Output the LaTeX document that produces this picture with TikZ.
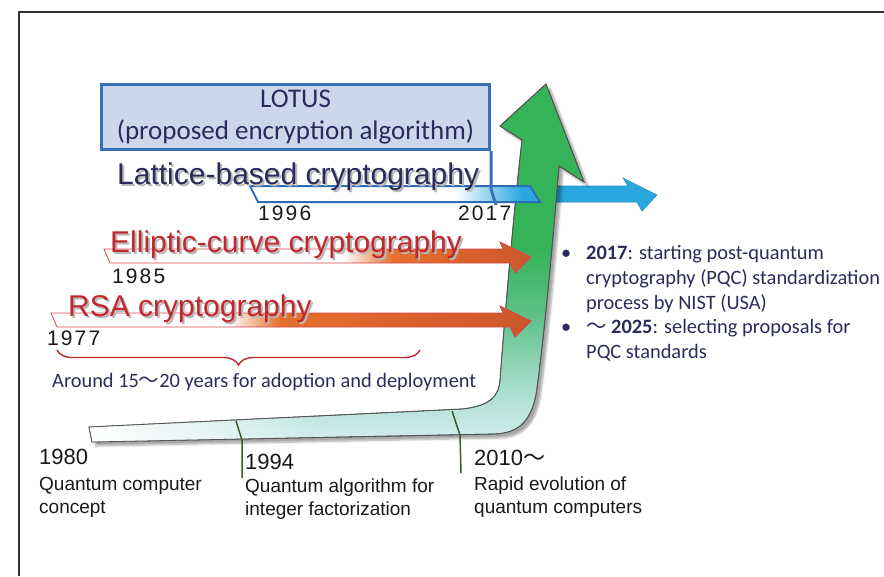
\documentclass[tikz,border=0pt]{standalone}
\usepackage{fontspec}
\setmainfont{Carlito}
\newfontfamily\titlefont{Liberation Sans}
\newfontfamily\yearfont[LetterSpace=10]{Liberation Sans}
\newfontfamily\capfont{Liberation Sans}
\newfontfamily\cjk{Noto Sans CJK JP}
\usetikzlibrary{shadows.blur,fadings,decorations.pathreplacing}
\definecolor{navytxt}{HTML}{2B2B5B}
\definecolor{redtxt}{HTML}{C1272D}
\definecolor{boxfill}{HTML}{CBD8EB}
\definecolor{boxline}{HTML}{3A70B8}
\definecolor{latline}{HTML}{2E6DB4}
\definecolor{latblue}{HTML}{29A8E0}
\definecolor{eorange}{HTML}{E5712E}
\definecolor{eorangedk}{HTML}{CB5629}
\definecolor{ecline}{HTML}{D9474B}
\definecolor{qgreen}{HTML}{35B359}
\definecolor{qmid}{HTML}{62C28C}
\definecolor{qmint}{HTML}{A6DCCB}
\definecolor{qpale}{HTML}{D3EEEF}
\definecolor{tickgreen}{HTML}{3E5B2C}
\pgfdeclareverticalshading{qshade}{100bp}{color(0bp)=(qpale); color(25bp)=(qpale);
  color(33bp)=(qmint); color(42bp)=(qmid); color(52bp)=(qgreen); color(100bp)=(qgreen)}
\tikzfading[name=faderight, left color=transparent!0, right color=transparent!100]
% title text with a grey shadow behind it
\newcommand{\shadowed}[2]{\makebox[0pt][l]{\hspace{2pt}\raisebox{-2pt}{\textcolor{black!28}{#2}}}\textcolor{#1}{#2}}
\tikzset{
  framelin/.style={line width=1.2pt,black!80},
  lotusbox/.style={draw=boxline,fill=boxfill,line width=3pt,align=center,
    text=navytxt,font=\fontsize{27}{32}\selectfont,inner sep=0pt},
  ttl/.style={anchor=base west,inner sep=0pt,font=\titlefont\fontsize{30}{36}\selectfont},
  yr/.style={anchor=base west,inner sep=0pt,font=\yearfont\fontsize{21}{24}\selectfont,text=black!90},
  byr/.style={anchor=base west,inner sep=0pt,font=\capfont\fontsize{22}{26}\selectfont,text=black!90},
  caplbl/.style={anchor=base west,inner sep=0pt,font=\capfont\fontsize{19}{23}\selectfont,text=black!90},
  notelbl/.style={anchor=base west,inner sep=0pt,font=\fontsize{20.4}{24}\selectfont,text=navytxt},
  mtick/.style={line width=1.5pt,tickgreen},
  qline/.style={draw=gray!65!black,line width=0.8pt},
  bracedeco/.style={decorate,decoration={brace,mirror,amplitude=15pt},line width=1.4pt,redtxt},
}
\def\qpath{(89,427) -- (462,409) .. controls (490,406) and (499,396) .. (500,380)
  .. controls (506,300) and (515,200) .. (522,140) -- (500,126) -- (546,84) -- (584,182) -- (559,166)
  .. controls (553,240) and (544,340) .. (536,395) .. controls (530,425) and (515,433) .. (495,434)
  -- (92,442) -- cycle}
\def\latpath{(250,186) -- (530,186) -- (540,202) -- (258,202) -- cycle}

\begin{document}
\begin{tikzpicture}[x=1pt,y=-1pt]
  \useasboundingbox (0,0) rectangle (884,576);
  \draw[framelin] (884,12) -- (19,12) -- (19,576);

  % ---- lattice arrow, behind the quantum arrow ----
  \draw[fill=latblue,draw=latblue!85!black,line width=0.6pt]
    (540,186) -- (628,186) -- (623,178) -- (657,195) -- (642,211) -- (637,202) -- (540,202) -- cycle;

  % ---- quantum computer arrow ----
  \shade[shading=qshade,qline,
    blur shadow={shadow xshift=4pt,shadow yshift=-4pt,shadow opacity=35,shadow blur steps=8}] \qpath;
  \begin{scope}
    \clip \qpath;
    \fill[white,path fading=faderight] (88,400) rectangle (330,450);
  \end{scope}
  \draw[qline] \qpath;
  \draw[mtick] (236,421) -- (242,440) -- (242,478);
  \draw[mtick] (452,411) -- (460,435) -- (461,473);

  % ---- lattice period and LOTUS ----
  \begin{scope}
    \clip \latpath;
    \fill[white] (245,180) rectangle (456,210);
    \fill[latblue] (520,180) rectangle (545,210);
    \shade[left color=white,right color=latblue] (455,180) rectangle (522,210);
  \end{scope}
  \draw[latline,line width=2pt] \latpath;
  \node[lotusbox,minimum width=388pt,minimum height=65pt,anchor=north west] (lotus) at (100,83)
    {LOTUS\\(proposed encryption algorithm)};
  \draw[boxline,line width=3pt] (lotus.south east) -- ++(0,38) -- ++(5,16);

  % ---- RSA and elliptic-curve arrows ----
  \foreach \ty/\tx/\gx in {249/104/343, 313/51/229} {
    \begin{scope}
      \clip (\tx,\ty) -- (503,\ty) -- (500,\ty-7) -- (531,\ty+8) -- (515,\ty+24) -- (510,\ty+14)
        -- (\tx+6,\ty+14) -- cycle;
      \shade[left color=eorange,right color=eorangedk] (\gx+48,\ty-8) rectangle (532,\ty+25);
      \shade[left color=white,right color=eorange] (\gx,\ty-8) rectangle (\gx+50,\ty+25);
    \end{scope}
    \draw[ecline,line width=0.8pt] (\tx,\ty) -- (503,\ty) -- (500,\ty-7) -- (531,\ty+8)
      -- (515,\ty+24) -- (510,\ty+14) -- (\tx+6,\ty+14) -- cycle;
  }

  % ---- titles ----
  \node[ttl] (lattice) at (117,184) {\shadowed{navytxt}{Lattice-based cryptography}};
  \node[ttl] (ecc) at (110,252) {\shadowed{redtxt}{Elliptic-curve cryptography}};
  \node[ttl] (rsa) at (68,316) {\shadowed{redtxt}{RSA cryptography}};

  % ---- years ----
  \node[yr] (y1996) at (258,220) {1996};
  \node[yr] (y2017) at (458,220) {2017};
  \node[yr] (y1985) at (112,283) {1985};
  \node[yr] (y1977) at (47,345) {1977};

  % ---- adoption brace ----
  \draw[bracedeco] (57,350) -- (420,350);
  \node[notelbl] (adopt) at (52,387) {Around 15{\cjk ～}20 years for adoption and deployment};

  % ---- PQC notes ----
  \node[notelbl] (bulA) at (561,259) {•};
  \node[notelbl] (pqcA1) at (586,259) {\textbf{2017}: starting post-quantum};
  \node[notelbl] (pqcA2) at (586,284) {cryptography (PQC) standardization};
  \node[notelbl] (pqcA3) at (586,309) {process by NIST (USA)};
  \node[notelbl] (bulB) at (561,333) {•};
  \node[notelbl] (pqcB1) at (586,333) {{\cjk ～} \textbf{2025}: selecting proposals for};
  \node[notelbl] (pqcB2) at (586,358) {PQC standards};

  % ---- quantum milestones ----
  \node[byr] (q1980) at (39,464) {1980};
  \node[caplbl] (q1980a) at (39,490) {Quantum computer};
  \node[caplbl] (q1980b) at (39,513) {concept};
  \node[byr] (q1994) at (245,469) {1994};
  \node[caplbl] (q1994a) at (245,492) {Quantum algorithm for};
  \node[caplbl] (q1994b) at (245,515) {integer factorization};
  \node[byr] (q2010) at (474,465) {2010{\cjk ～}};
  \node[caplbl] (q2010a) at (474,490) {Rapid evolution of};
  \node[caplbl] (q2010b) at (474,513) {quantum computers};
\end{tikzpicture}
\end{document}
